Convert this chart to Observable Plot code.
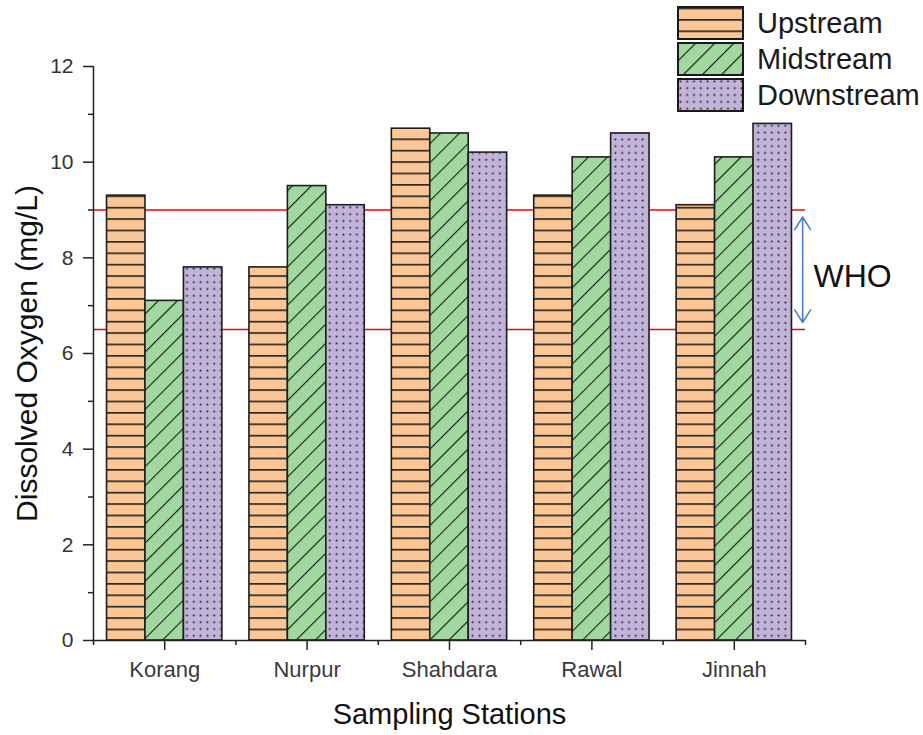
<!DOCTYPE html>
<html>
<head>
<meta charset="utf-8">
<script src="https://cdn.jsdelivr.net/npm/d3@7"></script>
<script src="https://cdn.jsdelivr.net/npm/@observablehq/plot@0.6"></script>
<style>
  body { margin: 0; background: #fff; font-family: "Liberation Sans", Arial, sans-serif; }
  #wrap { position: relative; width: 923px; height: 735px; }
  #legend { position: absolute; left: 677px; top: 5px; }
  .item { display: flex; align-items: center; height: 36px; }
  .item svg { display: block; }
  .item span { margin-left: 13px; font-size: 29px; color: #1a1a1a; line-height: 1; }
</style>
</head>
<body>
<!-- shared fill patterns for the bars and the legend swatches -->
<svg width="0" height="0" style="position:absolute">
  <defs>
    <pattern id="pat-up" patternUnits="userSpaceOnUse" width="12" height="11.4" y="1.6">
      <rect width="12" height="11.4" fill="#fdc795"/>
      <rect width="12" height="1.7" fill="#2b2b2b"/>
    </pattern>
    <pattern id="pat-mid" patternUnits="userSpaceOnUse" width="12" height="13.5" patternTransform="rotate(-45)">
      <rect x="-1" y="-1" width="14" height="15.5" fill="#a0d89f"/>
      <rect width="12" height="1.1" fill="#1a1a1a"/>
    </pattern>
    <pattern id="pat-down" patternUnits="userSpaceOnUse" width="6.8" height="6.8">
      <rect width="6.8" height="6.8" fill="#c2b3da"/>
      <circle cx="3.4" cy="3.4" r="1.05" fill="#222"/>
    </pattern>
  </defs>
</svg>
<div id="wrap"><div id="legend"></div></div>
<script>
// Dissolved oxygen (mg/L) at five sampling stations
const stations = ["Korang", "Nurpur", "Shahdara", "Rawal", "Jinnah"];
const series = ["Upstream", "Midstream", "Downstream"];
const upstream = [9.3, 7.8, 10.7, 9.3, 9.1];
const midstream = [7.1, 9.5, 10.6, 10.1, 10.1];
const downstream = [7.8, 9.1, 10.2, 10.6, 10.8];
const whoRange = [6.5, 9];           // WHO guideline band
const yTicks = [0, 2, 4, 6, 8, 10, 12];
const yMinorTicks = [1, 3, 5, 7, 9, 11];

const values = [upstream, midstream, downstream];
const fills = ["url(#pat-up)", "url(#pat-mid)", "url(#pat-down)"];

// each station occupies one unit on x; the three bars fill most of it
const groupWidth = 0.81;
const barWidth = groupWidth / series.length;

const rows = stations.flatMap((station, i) =>
  series.map((name, s) => ({station, name, i, s, value: values[s][i]}))
);

const barMarks = series.map((name, s) =>
  Plot.rectY(rows.filter(d => d.s === s), {
    x1: d => d.i - groupWidth / 2 + d.s * barWidth,
    x2: d => d.i - groupWidth / 2 + (d.s + 1) * barWidth,
    y: "value",
    fill: fills[s],
    stroke: "#1e1e1e",
    strokeWidth: 1.6
  })
);

const majorX = stations.map((_, i) => i);
const minorX = d3.range(stations.length + 1).map(i => i - 0.5);
const whoMid = (whoRange[0] + whoRange[1]) / 2;
const whoArrowX = 4.48;

const chart = Plot.plot({
  width: 923,
  height: 735,
  marginTop: 66,
  marginLeft: 93,
  marginRight: 118,
  marginBottom: 95,
  style: {fontFamily: "'Liberation Sans', Arial, sans-serif", color: "#222", background: "#fff", overflow: "visible"},
  x: {domain: [-0.5, stations.length - 0.5], label: null},
  y: {domain: [0, 12], label: null},
  marks: [
    Plot.ruleY(whoRange, {stroke: "#ff0000", strokeWidth: 1.5}),
    ...barMarks,
    Plot.ruleX([-0.5], {stroke: "#222", strokeWidth: 1.5}),
    Plot.ruleY([0], {stroke: "#222", strokeWidth: 1.5}),
    Plot.axisY({ticks: yTicks, tickSize: 10, tickPadding: 10, fontSize: 21, fill: "#333", strokeWidth: 1.5, label: null}),
    Plot.axisY({ticks: yMinorTicks, tickSize: 5, tickFormat: () => "", strokeWidth: 1.5, label: null}),
    Plot.axisX({ticks: majorX, tickFormat: i => stations[i], tickSize: 10, tickPadding: 11, fontSize: 22, fill: "#3a3a3a", strokeWidth: 1.5, label: null}),
    Plot.axisX({ticks: minorX, tickSize: 5, tickFormat: () => "", strokeWidth: 1.5, label: null}),
    Plot.text(["Dissolved Oxygen (mg/L)"], {frameAnchor: "left", dx: -66, rotate: -90, textAnchor: "middle", lineAnchor: "middle", fontSize: 30, fill: "#111"}),
    Plot.text(["Sampling Stations"], {frameAnchor: "bottom", dy: 74, textAnchor: "middle", lineAnchor: "middle", fontSize: 29, fill: "#111"}),
    Plot.arrow([{y1: whoMid, y2: whoRange[1]}, {y1: whoMid, y2: whoRange[0]}], {
      x: whoArrowX, y1: "y1", y2: "y2", insetEnd: 7,
      stroke: "#4a7fd4", strokeWidth: 1.6, headLength: 14, headAngle: 64
    }),
    Plot.text(["WHO"], {x: stations.length - 0.5, y: whoMid, dx: 8, dy: 7, textAnchor: "start", fontSize: 32, fill: "#111"})
  ]
});

const wrap = document.getElementById("wrap");
wrap.insertBefore(chart, wrap.firstChild);

// legend: one patterned swatch per series
const legend = d3.select("#legend");
series.forEach((name, s) => {
  const item = legend.append("div").attr("class", "item");
  const sw = item.append("svg").attr("width", 67).attr("height", 34);
  sw.append("rect")
    .attr("x", 1).attr("y", 1).attr("width", 65).attr("height", 32)
    .attr("fill", fills[s]).attr("stroke", "#1a1a1a").attr("stroke-width", 2);
  item.append("span").text(name);
});
</script>
</body>
</html>
